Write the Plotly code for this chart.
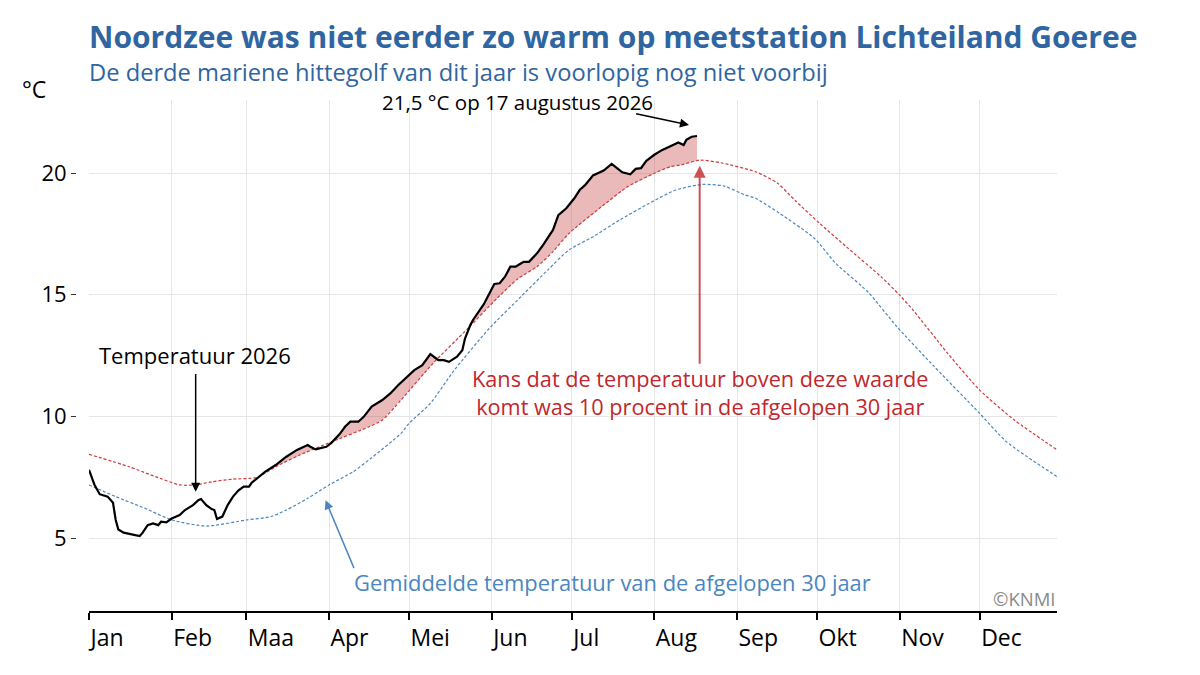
import numpy as np
import pandas as pd
import plotly.graph_objects as go

# ---------------- data (day of year, 0 = 1 januari 2026) ----------------
obs_day = [0, 2, 4, 7, 9, 10, 11, 13, 16, 19, 20, 22, 24, 26, 27, 29, 31, 34, 36, 39,
           41, 42, 44, 46, 47, 48, 50, 52, 54, 56, 58, 60, 61, 64, 66, 70, 74, 78, 82, 83,
           85, 89, 91, 94, 96, 98, 101, 103, 106, 110, 113, 116, 120, 122, 125, 126, 128, 131, 133, 135,
           138, 140, 141, 143, 144, 148, 151, 152, 154, 156, 158, 160, 161, 163, 165, 168, 170, 172, 174, 176,
           179, 182, 184, 186, 189, 193, 196, 198, 200, 203, 205, 207, 209, 212, 215, 219, 221, 223, 224, 226, 228]
obs_temp = [7.8, 7.2, 6.8, 6.7, 6.45, 5.75, 5.35, 5.22, 5.15, 5.08, 5.2, 5.53, 5.6, 5.53, 5.67, 5.64, 5.8, 5.94, 6.15, 6.35,
            6.55, 6.6, 6.35, 6.19, 6.15, 5.78, 5.88, 6.35, 6.7, 6.95, 7.11, 7.11, 7.27, 7.52, 7.72, 8.0, 8.34, 8.62, 8.82, 8.75,
            8.64, 8.75, 8.92, 9.27, 9.57, 9.78, 9.78, 9.98, 10.4, 10.67, 10.94, 11.29, 11.7, 11.9, 12.1, 12.24, 12.56, 12.31, 12.31, 12.24,
            12.45, 12.72, 13.2, 13.75, 13.96, 14.6, 15.2, 15.44, 15.47, 15.74, 16.15, 16.15, 16.22, 16.35, 16.35, 16.7, 17.0, 17.35, 17.66, 18.27,
            18.55, 18.96, 19.3, 19.5, 19.9, 20.1, 20.37, 20.2, 20.03, 19.95, 20.17, 20.2, 20.5, 20.75, 20.95, 21.15, 21.25, 21.15, 21.36, 21.49, 21.52]

p90_day = [0, 15, 25, 34, 40, 46, 54, 63, 70, 79, 90, 105, 110, 117, 129, 142, 153, 161, 168, 174,
           180, 192, 202, 212, 218, 222, 229, 237, 250, 258, 265, 274, 284, 297, 304, 309, 322, 334, 347, 364]
p90_temp = [8.44, 7.93, 7.52, 7.18, 7.18, 7.31, 7.42, 7.49, 7.93, 8.41, 8.91, 9.57, 9.85, 10.67, 12.18, 13.6, 14.85, 15.67, 16.15, 16.77,
            17.52, 18.6, 19.44, 19.99, 20.26, 20.33, 20.53, 20.42, 20.05, 19.6, 18.85, 17.93, 16.97, 15.74, 14.98, 14.37, 12.59, 11.08, 9.85, 8.55]

mean_day = [0, 10, 21, 31, 44, 59, 68, 74, 82, 90, 99, 106, 117, 120, 128, 137, 150, 162, 172, 180,
            189, 199, 210, 220, 230, 238, 246, 250, 259, 272, 280, 292, 303, 317, 334, 344, 364]
mean_temp = [7.18, 6.7, 6.22, 5.74, 5.49, 5.74, 5.87, 6.15, 6.63, 7.18, 7.72, 8.3, 9.3, 9.71, 10.53, 11.9, 13.6, 14.92, 16.01, 16.84,
             17.38, 18.07, 18.75, 19.3, 19.53, 19.47, 19.1, 18.96, 18.34, 17.32, 16.29, 15.12, 13.68, 12.04, 10.12, 8.96, 7.45]

month_labels = ["Jan", "Feb", "Maa", "Apr", "Mei", "Jun", "Jul", "Aug", "Sep", "Okt", "Nov", "Dec"]
y_ticks = [5, 10, 15, 20]

YEAR_START = pd.Timestamp("2026-01-01")


def to_date(d):
    return YEAR_START + pd.to_timedelta(np.asarray(d, dtype=float), unit="D")


def to_date1(d):
    return (YEAR_START + pd.Timedelta(days=float(d))).isoformat()


obs_x = to_date(obs_day)
p90_x = to_date(p90_day)
mean_x = to_date(mean_day)

# shaded band between p90 and observations (where observations are higher)
p90_at_obs = np.interp(obs_day, p90_day, p90_temp)
band_top = np.maximum(np.array(obs_temp), p90_at_obs)
band_start = 60
mask = np.array(obs_day) >= band_start

FONT = "Open Sans"
RED = "#c1272d"
BLUE = "#4a86bf"
TITLE_BLUE = "#2f65a0"

fig = go.Figure()

fig.add_trace(go.Scatter(x=obs_x[mask], y=p90_at_obs[mask], mode="lines",
                         line=dict(width=0, color="rgba(0,0,0,0)"), hoverinfo="skip", showlegend=False))
fig.add_trace(go.Scatter(x=obs_x[mask], y=band_top[mask], mode="lines", fill="tonexty",
                         fillcolor="rgba(200,70,70,0.38)",
                         line=dict(width=0, color="rgba(0,0,0,0)"), hoverinfo="skip", showlegend=False))

fig.add_trace(go.Scatter(x=mean_x, y=mean_temp, mode="lines", line_shape="spline",
                         line=dict(color=BLUE, width=1.2, dash="3px,2px", smoothing=0.6), showlegend=False))
fig.add_trace(go.Scatter(x=p90_x, y=p90_temp, mode="lines", line_shape="spline",
                         line=dict(color="#d0393c", width=1.2, dash="3px,2px", smoothing=0.6), showlegend=False))
fig.add_trace(go.Scatter(x=obs_x, y=obs_temp, mode="lines",
                         line=dict(color="black", width=2.2), showlegend=False))

# ---------- layout geometry helpers (screen pixel -> paper) ----------
OFF = 8  # page body margin
W, H = 1200 - OFF, 675 - OFF
ML, MR, MT, MB = 76 - OFF, 143, 100 - OFF, 64
PW = W - ML - MR
PH = H - MT - MB
x0_dom = 13 / PW


def px(xp):
    return (xp - OFF - ML) / PW


def py(yp):
    return (OFF + H - MB - yp) / PH


ann = []
ann.append(dict(text="Noordzee was niet eerder zo warm op meetstation Lichteiland Goeree",
                xref="paper", yref="paper", x=px(87), y=py(37), xanchor="left", yanchor="middle",
                showarrow=False, font=dict(family=FONT, size=30, color=TITLE_BLUE, weight="bold")))
ann.append(dict(text="De derde mariene hittegolf van dit jaar is voorlopig nog niet voorbij",
                xref="paper", yref="paper", x=px(87), y=py(72), xanchor="left", yanchor="middle",
                showarrow=False, font=dict(family=FONT, size=23.7, color=TITLE_BLUE)))
ann.append(dict(text="°C", xref="paper", yref="paper", x=px(34), y=py(89), xanchor="center", yanchor="middle",
                showarrow=False, font=dict(family=FONT, size=23, color="black")))
ann.append(dict(text="21,5 °C op 17 augustus 2026", xref="paper", yref="paper", x=px(517), y=py(102),
                xanchor="center", yanchor="middle", showarrow=False,
                font=dict(family=FONT, size=20.5, color="black")))
ann.append(dict(text="Temperatuur 2026", xref="paper", yref="paper", x=px(195), y=py(355),
                xanchor="center", yanchor="middle", showarrow=False,
                font=dict(family=FONT, size=22, color="black")))
ann.append(dict(text="Kans dat de temperatuur boven deze waarde<br>komt was 10 procent in de afgelopen 30 jaar",
                xref="paper", yref="paper", x=px(700), y=py(392), xanchor="center", yanchor="middle",
                align="center", showarrow=False, font=dict(family=FONT, size=21.7, color=RED)))
ann.append(dict(text="Gemiddelde temperatuur van de afgelopen 30 jaar", xref="paper", yref="paper",
                x=px(612), y=py(582), xanchor="center", yanchor="middle", showarrow=False,
                font=dict(family=FONT, size=21.9, color=BLUE)))
ann.append(dict(text="©KNMI", xref="paper", yref="paper", x=px(1057), y=py(598), xanchor="right",
                yanchor="middle", showarrow=False, font=dict(family=FONT, size=18.5, color="#8a8a8a")))


# arrows (data coordinates)
def arrow(tail_day, tail_t, head_day, head_t, color, width=1.5):
    return dict(x=to_date1(head_day), y=head_t, ax=to_date1(tail_day), ay=tail_t,
                xref="x", yref="y", axref="x", ayref="y", text="", showarrow=True,
                arrowhead=2, arrowsize=1.2, arrowwidth=width, arrowcolor=color)


ann.append(arrow(204.6, 22.45, 225.0, 21.97, "black"))
ann.append(arrow(40, 11.8, 40, 6.9, "black"))
ann.append(arrow(229, 12.1, 229, 20.3, "rgba(193,39,45,0.8)", 2))
ann.append(arrow(99.6, 3.7, 88.7, 6.55, BLUE))

month_starts = [to_date1(d) for d in [0, 31, 59, 90, 120, 151, 181, 212, 243, 273, 304, 334]]

fig.update_layout(
    width=W, height=H,
    margin=dict(l=ML, r=MR, t=MT, b=MB),
    paper_bgcolor="white", plot_bgcolor="white",
    font=dict(family=FONT, color="black"),
    annotations=ann,
    xaxis=dict(type="date", domain=[x0_dom, 1], range=[to_date1(0), to_date1(363)],
               tickvals=month_starts, ticktext=month_labels, ticklabelposition="outside right",
               ticklabelstandoff=6,
               ticks="outside", ticklen=7, tickwidth=1.5, tickcolor="black",
               showline=True, linecolor="black", linewidth=1.5,
               showgrid=True, gridcolor="#e6e6e6", gridwidth=1, zeroline=False,
               tickfont=dict(family=FONT, size=23, color="black")),
    yaxis=dict(range=[2, 23], tickvals=y_ticks, ticktext=[str(v) for v in y_ticks],
               anchor="free", position=0, ticks="outside", ticklen=5, tickwidth=1.2, tickcolor="#333",
               showline=False, showgrid=True, gridcolor="#e6e6e6", gridwidth=1, zeroline=False,
               tickfont=dict(family=FONT, size=22, color="black")),
)

fig.write_html("out.html")
